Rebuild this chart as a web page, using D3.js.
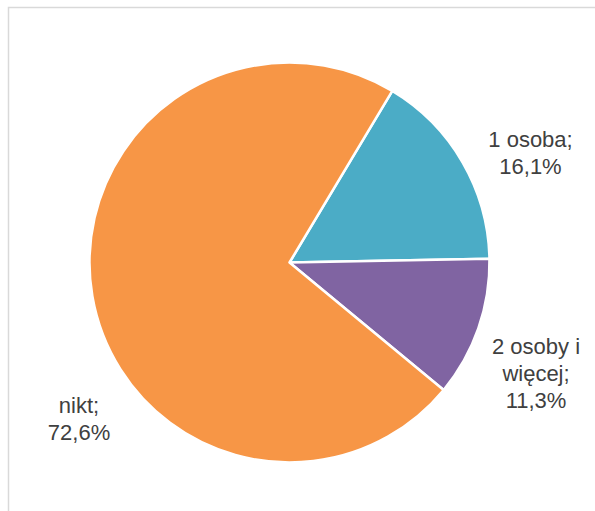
<!DOCTYPE html>
<html>
<head>
<meta charset="utf-8">
<script src="https://cdn.jsdelivr.net/npm/d3@7"></script>
<style>
    html, body { margin: 0; padding: 0; background: #fff; }
    svg { display: block; }
</style>
</head>
<body>
<div id="content"></div>
<script>
'use strict';

var categories = ['1 osoba', '2 osoby i więcej', 'nikt'];
var values = [16.1, 11.3, 72.6];
var labelLines = [
    ['1 osoba;', '16,1%'],
    ['2 osoby i', 'więcej;', '11,3%'],
    ['nikt;', '72,6%']
];
var colors = ['#4bacc6', '#8064a2', '#f79646'];

// label anchors relative to pie centre (first baseline), like Excel's best fit
var labelOffsets = [[241, -116], [246.5, 91], [-210.5, 150]];

function run() {
    var width = 595, height = 511;
    var cx = 289.5, cy = 262.5, radius = 200;
    var lineHeight = 27;

    var svg = d3.select('#content')
        .append('svg')
        .attr('width', width)
        .attr('height', height);

    svg.append('rect')
        .attr('x', 8.5)
        .attr('y', 7.5)
        .attr('width', width)
        .attr('height', height)
        .style('fill', 'none')
        .style('stroke', '#d9d9d9')
        .style('stroke-width', 1.5);

    var data = categories.map(function (c, i) {
        return { key: c, value: values[i], lines: labelLines[i], color: colors[i], offset: labelOffsets[i] };
    });

    var start = (90 - 1.1 - values[0] * 3.6) * Math.PI / 180;
    var pie = d3.pie()
        .sort(null)
        .value(function (d) { return d.value; })
        .startAngle(start)
        .endAngle(start + 2 * Math.PI);

    var arc = d3.arc()
        .innerRadius(0)
        .outerRadius(radius);

    var chart = svg.append('g')
        .attr('transform', 'translate(' + cx + ' ' + cy + ')');

    chart.selectAll('.slice')
        .data(pie(data))
        .enter()
        .append('path')
        .attr('class', 'slice')
        .attr('d', arc)
        .style('fill', function (d) { return d.data.color; })
        .style('stroke', '#fff')
        .style('stroke-width', 2.5)
        .style('stroke-linejoin', 'round');

    var label = chart.selectAll('.label')
        .data(data)
        .enter()
        .append('text')
        .attr('class', 'label')
        .attr('text-anchor', 'middle')
        .style('font', '22px "Liberation Sans", Arial, sans-serif')
        .style('fill', '#404040');

    label.selectAll('tspan')
        .data(function (d) {
            return d.lines.map(function (l, i) { return { text: l, i: i, offset: d.offset }; });
        })
        .enter()
        .append('tspan')
        .attr('x', function (d) { return d.offset[0]; })
        .attr('y', function (d) { return d.offset[1] + d.i * lineHeight; })
        .text(function (d) { return d.text; });
}

document.addEventListener('DOMContentLoaded', run);
</script>
</body>
</html>
